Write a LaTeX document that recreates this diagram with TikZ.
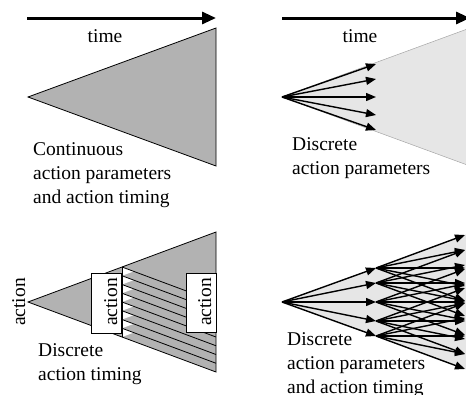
\documentclass[tikz,border=0pt]{standalone}
\usepackage{fontspec}
\setmainfont{Liberation Serif}
\usetikzlibrary{arrows.meta,calc}
\definecolor{midgray}{RGB}{178,178,178}
\definecolor{palegray}{RGB}{230,230,230}
\begin{document}
\begin{tikzpicture}[x=1pt,y=-1pt,
  timearrow/.style={line width=3pt,-{Triangle[length=14pt,width=12pt]}},
  wedge/.style={fill=midgray,draw=black,line width=0.8pt,line join=miter},
  pale/.style={fill=palegray,draw=gray!70,line width=0.5pt},
  ray/.style={line width=1.4pt,-{Triangle[length=10pt,width=8pt]}},
  stripe/.style={line width=0.8pt},
  lbl/.style={font=\fontsize{19.5}{24}\selectfont,inner sep=0pt,align=left},
  actbox/.style={draw,fill=white,line width=0.8pt,minimum width=30pt,minimum height=60pt,inner sep=0pt}]
\useasboundingbox (0,0) rectangle (466,394);
\clip (0,0) rectangle (466,394);

% ---------- top left: continuous ----------
\coordinate (tlA) at (27,18);
\coordinate (tlB) at (216,18);
\draw[timearrow] (tlA) -- (tlB);
\node[lbl,anchor=base] (tlTime) at (105,42) {time};
\coordinate (tlApex) at (28,97);
\coordinate (tlTop) at (216,28);
\coordinate (tlBot) at (216,166);
\draw[wedge] (tlApex) -- (tlTop) -- (tlBot) -- cycle;
\node[lbl,anchor=base west] (tlText) at (33,203) {Continuous\\action parameters\\and action timing};

% ---------- top right: discrete parameters ----------
\coordinate (trA) at (282,18);
\coordinate (trB) at (470,18);
\draw[timearrow] (trA) -- (trB);
\node[lbl,anchor=base] (trTime) at (360,42) {time};
\coordinate (trApex) at (282,97);
\coordinate (trTop) at (470,28);
\coordinate (trBot) at (470,166);
\draw[pale] (trApex) -- (trTop) -- (trBot) -- cycle;
\foreach \d [count=\k] in {-33,-18,0,18,33} {
  \coordinate (trM\k) at (376,97+\d);
  \draw[ray] (trApex) -- (trM\k);
}
\node[lbl,anchor=base west] (trText) at (292,174) {Discrete\\action parameters};

% ---------- bottom left: discrete timing ----------
\coordinate (blApex) at (28,302);
\coordinate (blTop) at (216,232);
\coordinate (blBot) at (216,372);
\fill[midgray] (blApex) -- (blTop) -- (blBot) -- cycle;
\foreach \i in {0,...,7} {
  \pgfmathsetmacro\ya{267+8.75*\i}
  \pgfmathsetmacro\yb{267+8.75*(\i+1)}
  \pgfmathsetmacro\ym{267+8.75*\i+4.375}
  \coordinate (blP\i) at (122,\ya);
  \fill[white] (blP\i) -- (133.75,\ym) -- (122,\yb) -- cycle;
  \draw[stripe] (blP\i) -- ++(94,35);
}
\coordinate (blP8) at (122,337);
\draw[stripe] (blP0) -- (blP8);
\draw[wedge,fill=none] (blApex) -- (blTop) -- (blBot) -- cycle;
\node[actbox] (boxL) at (106,303) {};
\node[lbl,rotate=90,anchor=base] (boxLtext) at (117,302) {action};
\node[actbox,minimum height=59pt] (boxR) at (201,302.5) {};
\node[lbl,rotate=90,anchor=base] (boxRtext) at (211,302) {action};
\node[lbl,rotate=90,anchor=base] (axisAct) at (25,302) {action};
\node[lbl,anchor=base west] (blText) at (38,380) {Discrete\\action timing};

% ---------- bottom right: discrete parameters and timing ----------
\coordinate (brApex) at (282,302);
\coordinate (brTop) at (470,233);
\coordinate (brBot) at (470,371);
\fill[palegray] (brApex) -- (brTop) -- (brBot) -- cycle;
\foreach \d [count=\k] in {-34,-19,0,19,34} {
  \coordinate (brM\k) at (376,302+\d);
  \draw[ray] (brApex) -- (brM\k);
}
\foreach \k in {1,...,5} {
  \foreach \e [count=\j] in {-33,-18,0,18,33} {
    \coordinate (brE\k\j) at ($(brM\k)+(89,\e)$);
  }
}
\foreach \k in {1,...,5} {
  \foreach \j in {1,...,5} {
    \draw[ray] (brM\k) -- (brE\k\j);
  }
}
\node[lbl,anchor=base west] (brText) at (287,393) {Discrete\\action parameters\\and action timing};
\end{tikzpicture}
\end{document}
